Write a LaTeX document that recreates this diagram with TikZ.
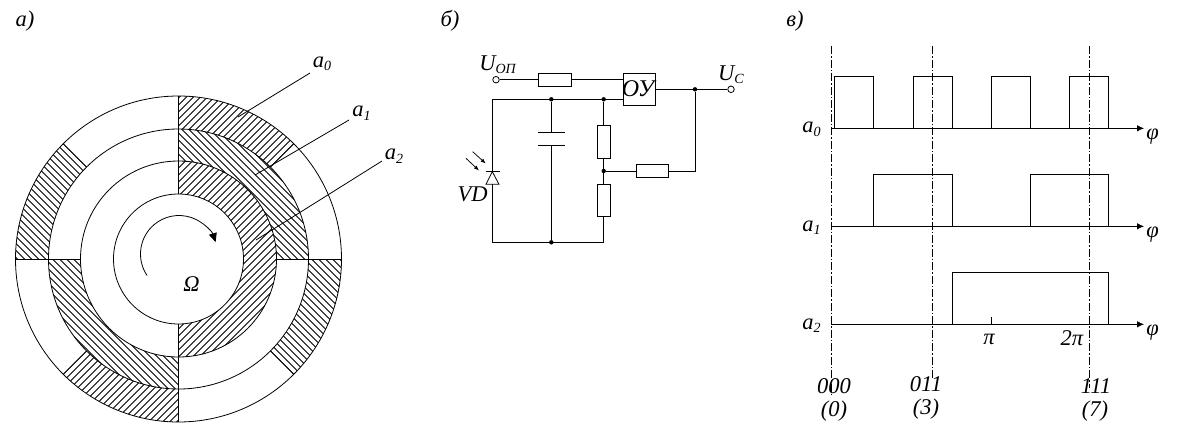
\documentclass[tikz,border=0pt]{standalone}
\usepackage{fontspec}
\setmainfont{Liberation Serif}
\usetikzlibrary{arrows.meta}
\newcommand{\subl}[2]{#1\raisebox{-3.5pt}{\fontsize{14}{14}\selectfont #2}}
\newcommand{\hsector}[5]{%
  \begin{scope}
    \clip (#3:#1) arc[start angle=#3,end angle=#4,radius=#1 pt] -- (#4:#2) arc[start angle=#4,end angle=#3,radius=#2 pt] -- cycle;
    \foreach \s in {-238,-231,...,238} {
      \ifnum#5=1 \draw[hatchline] (-200+\s,-200) -- (200+\s,200);
      \else \draw[hatchline] (-200+\s,200) -- (200+\s,-200); \fi
    }
  \end{scope}}
\tikzset{
  ln/.style={line width=0.8pt,draw=black},
  hatchline/.style={line width=0.9pt,draw=black},
  txt/.style={font=\fontsize{22.5}{22.5}\selectfont\itshape,inner sep=0pt,text=black},
  hres/.style={draw=black,line width=0.8pt,fill=white,minimum width=32.5pt,minimum height=13pt,inner sep=0pt},
  vres/.style={draw=black,line width=0.8pt,fill=white,minimum width=13pt,minimum height=32.5pt,inner sep=0pt},
  term/.style={circle,draw=black,line width=0.8pt,fill=white,minimum size=6.5pt,inner sep=0pt},
  junction/.style={circle,fill=black,minimum size=4.4pt,inner sep=0pt},
  dashdot/.style={line width=0.8pt,draw=black,dash pattern=on 8pt off 2pt on 1.5pt off 2pt},
  axisarrow/.style={line width=0.8pt,draw=black,-{Latex[length=7pt,width=6.5pt]}},
  lightarrow/.style={line width=0.75pt,draw=black,-{Latex[length=5pt,width=4pt]}},
}
\begin{document}
\begin{tikzpicture}[x=1pt,y=-1pt]
\path[use as bounding box,fill=white] (0,0) rectangle (1179,424);
% disc
\begin{scope}[shift={(178.5,259)},x=1pt,y=1pt]
  \hsector{163}{130}{45}{90}{1}
  \hsector{163}{130}{135}{180}{0}
  \hsector{163}{130}{225}{270}{1}
  \hsector{163}{130}{315}{360}{0}
  \hsector{130}{98}{0}{90}{0}
  \hsector{130}{98}{180}{270}{0}
  \hsector{98}{65}{-90}{90}{1}
  \foreach \r in {163,130,98,65} \draw[ln] (0,0) circle[radius=\r pt];
  \draw[ln] (0,65) -- (0,163);
  \draw[ln] (0,-65) -- (0,-163);
  \draw[ln] (-98,0) -- (-163,0);
  \draw[ln] (98,0) -- (163,0);
  \foreach \a in {45,135,225,315} \draw[hatchline] (\a:130) -- (\a:163);
  \draw[ln,-{Triangle[length=9pt,width=8pt]}] ([shift={(0.5,5)}]214:38.5) arc[start angle=214,end angle=18,radius=38.5pt];
\end{scope}
\node[txt] (lblA) at (25,21) {а)};
\node[txt] (lblB) at (450,21) {б)};
\node[txt] (lblC) at (795,21) {в)};
\node[txt] (omega) at (191.5,284.5) {Ω};
\node[txt] (a0) at (322,64) {\subl{a}{0}};
\node[txt] (a1) at (361.5,113) {\subl{a}{1}};
\node[txt] (a2) at (394,156) {\subl{a}{2}};
\coordinate (a0s) at (310,73);
\coordinate (a0e) at (238,117);
\coordinate (a1s) at (349,120);
\coordinate (a1e) at (255,175);
\coordinate (a2s) at (382,161);
\coordinate (a2e) at (256,240);
\draw[ln] (a0s) -- (a0e);
\draw[ln] (a1s) -- (a1e);
\draw[ln] (a2s) -- (a2e);
% circuit
\node[term] (uop) at (496,79.7) {};
\node[hres] (r1) at (555,79.7) {};
\node[draw=black,line width=0.8pt,minimum size=32pt,inner sep=0pt] (ou) at (639.3,89.3) {};
\node[txt,font=\fontsize{24}{24}\selectfont\itshape] (oul) at (638,88.5) {ОУ};
\node[term] (uc) at (731,89.3) {};
\node[junction] (jo) at (695,89.3) {};
\node[hres] (r2) at (652.5,171) {};
\node[junction] (jm) at (603.7,171) {};
\node[junction] (jt1) at (551.3,99.3) {};
\node[junction] (jt2) at (603.7,99.3) {};
\node[vres] (r3) at (603.7,141.8) {};
\node[vres] (r4) at (603.7,200.3) {};
\node[junction] (jb) at (551.3,242.3) {};
\coordinate (tl) at (492.3,99.3);
\coordinate (bl) at (492.3,242.3);
\coordinate (br) at (603.7,242.3);
\coordinate (fb) at (695,171);
\coordinate (ouin1) at (623.3,79.7);
\coordinate (ouin2) at (623.3,99.3);
\coordinate (c1) at (551.3,132.3);
\coordinate (c2) at (551.3,145.3);
\coordinate (dtop) at (492.3,171.7);
\coordinate (dbot) at (492.3,184.3);
\draw[ln] (uop) -- (r1) -- (ouin1);
\draw[ln] (tl) -- (ouin2);
\draw[ln] (ou.east |- uc) -- (uc);
\draw[ln] (jo) -- (fb) -- (r2);
\draw[ln] (r2) -- (jm);
\draw[ln] (jt2) -- (r3) -- (jm) -- (r4) -- (br) -- (bl);
\draw[ln] (jt1) -- (c1);
\draw[ln] (c2) -- (jb);
\draw[ln] (538.3,132.3) -- (564.7,132.3);
\draw[ln] (538.3,145.3) -- (564.7,145.3);
\draw[ln] (tl) -- (dtop);
\draw[ln] (dbot) -- (bl);
\draw[ln] (485.7,171.7) -- (499.7,171.7);
\draw[ln] (dtop) -- (499,184.3) -- (486,184.3) -- cycle;
\draw[lightarrow] (472.7,151.7) -- (485.7,163.5);
\draw[lightarrow] (466,158.3) -- (479,170.5);
\node[txt] (uopl) at (497.5,64.5) {U\raisebox{-3.5pt}{\fontsize{14}{14}\selectfont ОП}};
\node[txt] (ucl) at (731,74.5) {U\raisebox{-3.5pt}{\fontsize{14}{14}\selectfont C}};
\node[txt] (vd) at (472.5,194) {VD};
% timing diagrams
\draw[dashdot] (831.3,46) -- (831.3,396);
\draw[dashdot] (932.7,46) -- (932.7,378);
\draw[dashdot] (1089.3,46) -- (1089.3,388);
\coordinate (x0s) at (831.3,128.3); \coordinate (x0e) at (1144,128.3);
\coordinate (x1s) at (831.3,226.3); \coordinate (x1e) at (1144,226.3);
\coordinate (x2s) at (831.3,324.3); \coordinate (x2e) at (1144,324.3);
\draw[axisarrow] (x0s) -- (x0e);
\draw[axisarrow] (x1s) -- (x1e);
\draw[axisarrow] (x2s) -- (x2e);
\draw[ln] (834.3,128.3) -- (834.3,76.3) -- (873.7,76.3) -- (873.7,128.3);
\draw[ln] (913.3,128.3) -- (913.3,76.3) -- (952.7,76.3) -- (952.7,128.3);
\draw[ln] (991.3,128.3) -- (991.3,76.3) -- (1030.7,76.3) -- (1030.7,128.3);
\draw[ln] (1069.3,128.3) -- (1069.3,76.3) -- (1108.3,76.3) -- (1108.3,128.3);
\draw[ln] (873.7,226.3) -- (873.7,174.3) -- (952.7,174.3) -- (952.7,226.3);
\draw[ln] (1030.7,226.3) -- (1030.7,174.3) -- (1108.3,174.3) -- (1108.3,226.3);
\draw[ln] (952.3,324.3) -- (952.3,272.3) -- (1108.3,272.3) -- (1108.3,324.3);
\draw[ln] (991.3,317.3) -- (991.3,324.3);
\node[txt] (t0) at (811.5,129.5) {\subl{a}{0}};
\node[txt] (t1) at (811.5,227.5) {\subl{a}{1}};
\node[txt] (t2) at (811.5,325.5) {\subl{a}{2}};
\node[txt] (p0) at (1152.5,137) {φ};
\node[txt] (p1) at (1152.5,235) {φ};
\node[txt] (p2) at (1152.5,333) {φ};
\node[txt] (pi1) at (989,339) {π};
\node[txt] (pi2) at (1072,338) {2π};
\node[txt] (c000) at (834,386) {000};
\node[txt] (c011) at (926,384) {011};
\node[txt] (c111) at (1096,386) {111};
\node[txt] (d0) at (834,411) {(0)};
\node[txt] (d3) at (926,409) {(3)};
\node[txt] (d7) at (1095,411) {(7)};
\end{tikzpicture}
\end{document}
